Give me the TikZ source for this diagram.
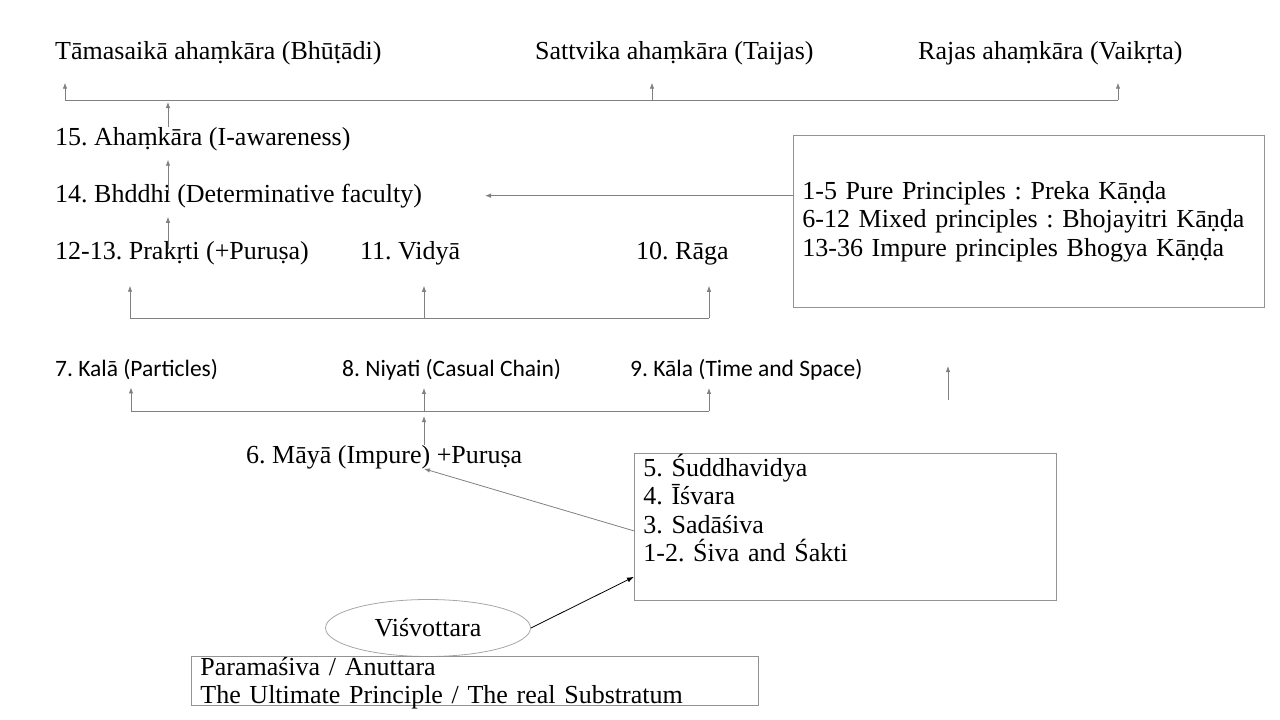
\documentclass[tikz,border=0pt]{standalone}
\usepackage{fontspec}
\setmainfont{Liberation Serif}
\newfontfamily\calibri{Carlito}
\usetikzlibrary{arrows.meta,positioning,shapes.geometric}
\frenchspacing

\begin{document}
\begin{tikzpicture}[x=1pt, y=-1pt, font=\fontsize{26}{28.5}\selectfont]
\tikzstyle{lbl}=[inner sep=0pt, anchor=base west]
\tikzstyle{sans}=[inner sep=0pt, anchor=base west, font=\calibri\fontsize{23.5}{26}\selectfont]
\tikzstyle{panel}=[draw=gray!85, line width=0.8pt, align=left, anchor=north west, inner xsep=9pt, inner ysep=4pt]
\tikzstyle{bus}=[draw=gray, line width=0.8pt]
\tikzstyle{arr}=[draw=gray, line width=0.8pt, -{Latex[length=6pt,width=4.5pt]}]
\useasboundingbox (0,0) rectangle (1280,720);
% evolutes
\node[lbl] (tam) at (55,59) {Tāmasaikā ahaṃkāra (Bhūṭādi)};
\node[lbl] (sat) at (535,59) {Sattvika ahaṃkāra (Taijas)};
\node[lbl] (raj) at (918,59) {Rajas ahaṃkāra (Vaikṛta)};
\node[lbl] (ahm) at (55,145) {15. Ahaṃkāra (I-awareness)};
\node[lbl] (bud) at (55,202) {14. Bhddhi (Determinative faculty)};
\node[lbl] (pra) at (55,259) {12-13. Prakṛti (+Puruṣa)};
\node[lbl] (vid) at (360,259) {11. Vidyā};
\node[lbl] (rag) at (636,259) {10. Rāga};
\node[sans] (kal) at (55,376) {7. Kalā (Particles)};
\node[sans] (niy) at (342,376) {8. Niyati (Casual Chain)};
\node[sans] (kala) at (630,376) {9. Kāla (Time and Space)};
\node[lbl] (may) at (246,463) {6. Māyā (Impure) +Puruṣa};
% boxes
\node[panel, text width=453, minimum height=172] (kanda) at (793,135) {1-5 Pure Principles : Preka Kāṇḍa\\6-12 Mixed principles : Bhojayitri Kāṇḍa\\13-36 Impure principles Bhogya Kāṇḍa};
\node[panel, text width=404, minimum height=147, inner ysep=0pt] (pure) at (634,453) {5. Śuddhavidya\\4. Īśvara\\3. Sadāśiva\\1-2. Śiva and Śakti\\[10pt]\mbox{}};
\node[draw=gray!70, line width=0.8pt, ellipse, minimum width=205, minimum height=57] (vis) at (428,628) {Viśvottara};
\node[panel, text width=549, text height=19pt, text depth=30pt, inner ysep=0pt] (para) at (191,656) {Paramaśiva / Anuttara\\The Ultimate Principle / The real Substratum};
% junctions
\coordinate (t1) at (65,100);
\coordinate (t2) at (168,100);
\coordinate (t3) at (652,100);
\coordinate (t4) at (1118,100);
\coordinate (m1) at (130,318);
\coordinate (m2) at (424,318);
\coordinate (m3) at (709,318);
\coordinate (k1) at (131,411);
\coordinate (k2) at (424,411);
\coordinate (k3) at (709,411);
\coordinate (lone) at (948,400);
% connectors
\draw[bus] (t1) -- (t4);
\draw[arr, shorten >=18pt] (t1) -- (t1 |- tam.south);
\draw[arr, shorten >=18pt] (t3) -- (t3 |- sat.south);
\draw[arr, shorten >=18pt] (t4) -- (t4 |- raj.south);
\draw[arr, shorten >=2pt] (t2 |- ahm.north) -- (t2);
\draw[arr, shorten <=-10pt, shorten >=9pt] (t2 |- bud.north) -- (t2 |- ahm.south);
\draw[arr, shorten <=-8pt, shorten >=9pt] (t2 |- pra.north) -- (t2 |- bud.south);
\draw[arr] (kanda.west |- bud) -- +(-308,0);
\draw[bus] (m1) -- (m3);
\draw[arr, shorten >=21pt] (m1) -- (m1 |- pra.south);
\draw[arr, shorten >=21pt] (m2) -- (m2 |- vid.south);
\draw[arr, shorten >=21pt] (m3) -- (m3 |- rag.south);
\draw[bus] (k1) -- (k3);
\draw[arr, shorten >=8pt] (k1) -- (k1 |- kal.south);
\draw[arr, shorten >=8pt] (k2) -- (k2 |- niy.south);
\draw[arr, shorten >=8pt] (k3) -- (k3 |- kala.south);
\draw[arr, shorten >=5pt] (k2 |- may.north) -- (k2);
\draw[arr] ([yshift=-4pt]pure.west) -- (k2 |- may.south);
\draw[-{Latex[length=7pt,width=5pt]}, line width=0.8pt] (vis.east) -- ([yshift=24pt]pure.south west);
\draw[arr] (lone) -- +(0,-34);
\end{tikzpicture}
\end{document}
